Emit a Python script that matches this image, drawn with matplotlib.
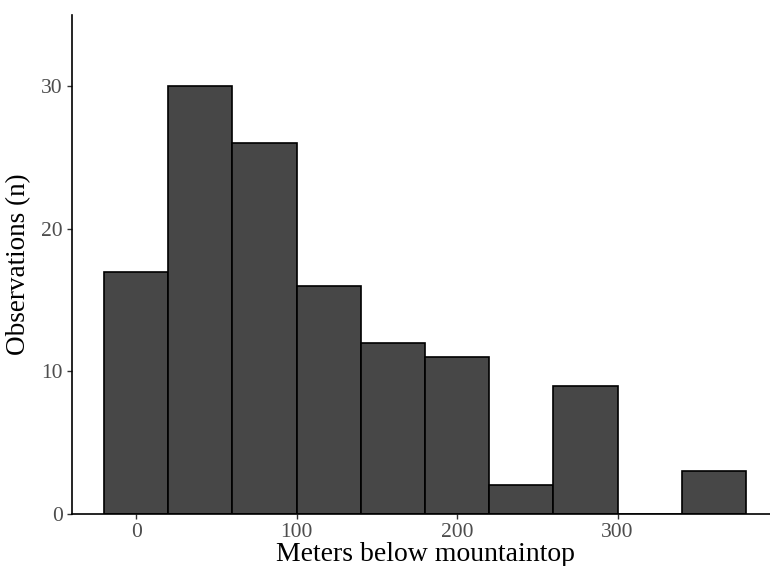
import matplotlib.pyplot as plt
import numpy as np

# histogram bins (left edges, metres) and counts
bin_left = [-20, 20, 60, 100, 140, 180, 220, 260, 300, 340]
bin_width = 40
counts = [17, 30, 26, 16, 12, 11, 2, 9, 0, 3]

x_ticks = [0, 100, 200, 300]
y_ticks = [0, 10, 20, 30]

plt.rcParams['font.family'] = ['Liberation Serif', 'DejaVu Serif']

fig = plt.figure(figsize=(7.7, 5.66), dpi=100)
W, H = 770, 566
ax = fig.add_axes([72 / W, (H - 514) / H, (778 - 72) / W, (514 - 15) / H])

ax.bar(bin_left, counts, width=bin_width, align='edge',
       color='#474747', edgecolor='black', linewidth=1.2, zorder=2)

ax.set_xlim(-40, 400)
ax.set_ylim(0, 35)
ax.set_xticks(x_ticks)
ax.set_yticks(y_ticks)

for side in ['top', 'right']:
    ax.spines[side].set_visible(False)
for side in ['left', 'bottom']:
    ax.spines[side].set_linewidth(1.2)
    ax.spines[side].set_color('black')

ax.tick_params(axis='both', length=3.5, width=1.0, color='#333333',
               labelsize=15.5, labelcolor='#4D4D4D', pad=3)

ax.set_xlabel('Meters below mountaintop', fontsize=20, labelpad=0)
ax.set_ylabel('Observations (n)', fontsize=19.5, labelpad=7)

fig.savefig('out.png', dpi=100)
